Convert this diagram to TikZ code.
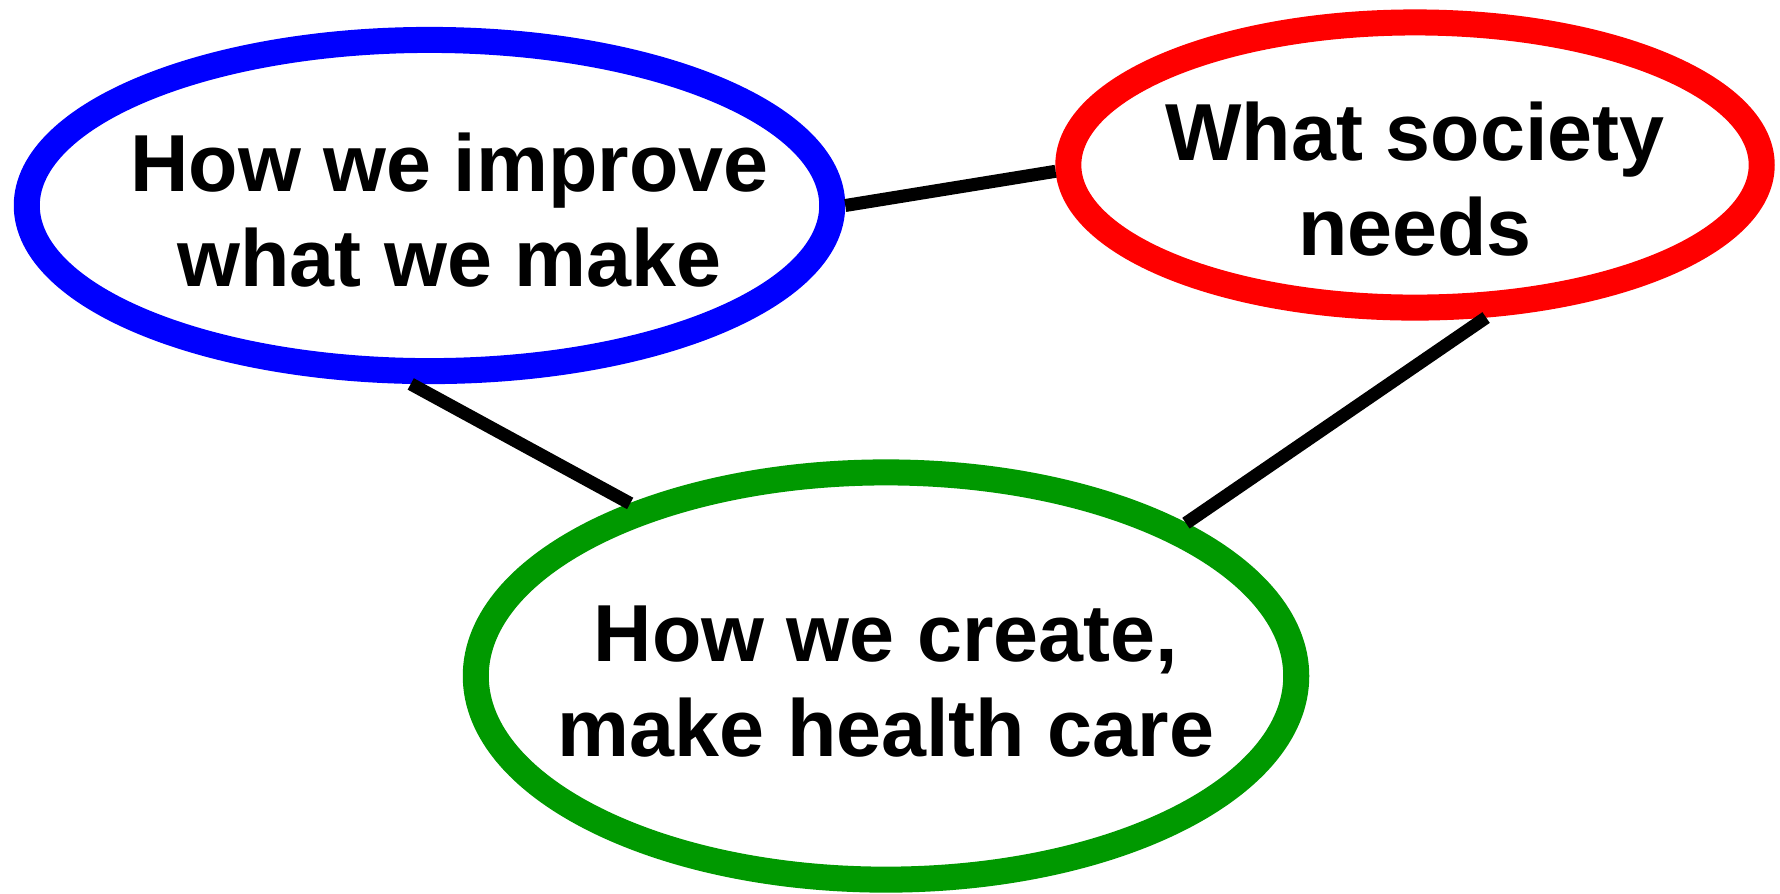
\documentclass[tikz,border=0pt]{standalone}
\usepackage{fontspec}
\setmainfont{Liberation Sans}
\usepackage[HTML]{xcolor}
\usepackage{tikz}
\usetikzlibrary{shapes.geometric}

\definecolor{ringblue}{HTML}{0000FF}
\definecolor{ringred}{HTML}{FF0000}
\definecolor{ringgreen}{HTML}{009900}

\tikzset{
  bubble/.style={ellipse, line width=0.26cm, fill=white, inner sep=0pt},
  bubbletext/.style={font=\bfseries\fontsize{23}{27}\selectfont, align=center},
  link/.style={line width=0.13cm}
}

\begin{document}
\begin{tikzpicture}[x=0.01cm,y=-0.01cm]
\useasboundingbox (0,0) rectangle (1780,893);
\node[bubble,draw=ringblue,minimum width=8.05cm,minimum height=3.31cm,
  label={[bubbletext,xshift=0.2cm,yshift=-0.05cm]center:How we improve\\what we make}] (improve) at (429.5,205.5) {};
\node[bubble,draw=ringred,minimum width=6.93cm,minimum height=2.85cm,
  label={[bubbletext,yshift=-0.14cm]center:What society\\needs}] (society) at (1415,165) {};
\node[bubble,draw=ringgreen,minimum width=8.2cm,minimum height=4.07cm,
  label={[bubbletext,yshift=-0.055cm]center:How we create,\\make health care}] (create) at (886,676) {};
% links between the three rings
\draw[link] (improve.0.9) -- (society.181.6);
\draw[link] (improve.-96.5) -- (create.146);
\draw[link] (society.-65.1) -- (create.27.6);
\end{tikzpicture}
\end{document}
